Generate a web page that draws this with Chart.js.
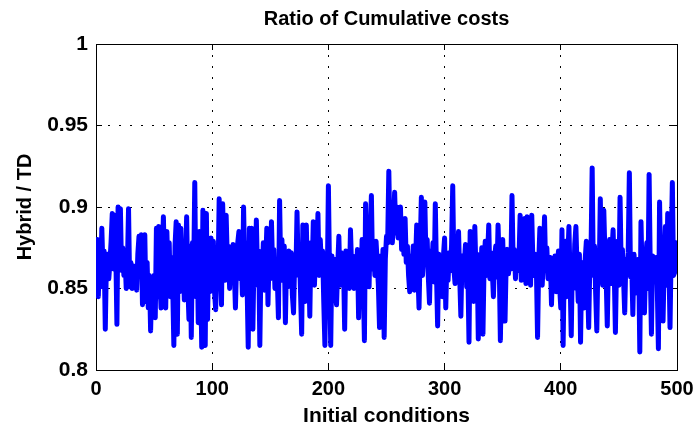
<!DOCTYPE html>
<html><head><meta charset="utf-8">
<script src="https://cdn.jsdelivr.net/npm/chart.js@4"></script>
<style>html,body{margin:0;padding:0;background:#fff}#wrap{width:695px;height:429px}</style>
</head><body><div id="wrap"><canvas id="c" width="695" height="429"></canvas></div>
<script>
const titleText = 'Ratio of Cumulative costs';
const xTitle = 'Initial conditions';
const yTitle = 'Hybrid / TD';
const xTicks = [0, 100, 200, 300, 400, 500];
const xTickLabels = ['0', '100', '200', '300', '400', '500'];
const yTicks = [0.8, 0.85, 0.9, 0.95, 1];
const yTickLabels = ['0.8', '0.85', '0.9', '0.95', '1'];
const ratio = [
0.880,0.845,0.872,0.851,0.887,0.862,0.873,0.825,0.868,0.871,
0.856,0.866,0.879,0.896,0.862,0.895,0.874,0.828,0.900,0.866,
0.899,0.861,0.875,0.858,0.869,0.850,0.863,0.899,0.851,0.866,
0.850,0.864,0.851,0.860,0.849,0.871,0.882,0.858,0.883,0.840,
0.876,0.883,0.842,0.866,0.838,0.858,0.824,0.855,0.836,0.858,
0.832,0.887,0.845,0.888,0.855,0.838,0.868,0.894,0.861,0.838,
0.885,0.858,0.878,0.845,0.869,0.852,0.815,0.876,0.891,0.822,
0.889,0.848,0.887,0.855,0.871,0.843,0.866,0.894,0.852,0.831,
0.876,0.820,0.878,0.856,0.915,0.845,0.881,0.829,0.885,0.860,
0.814,0.898,0.862,0.815,0.896,0.831,0.872,0.848,0.881,0.856,
0.879,0.848,0.837,0.875,0.856,0.905,0.862,0.840,0.902,0.871,
0.855,0.895,0.868,0.876,0.850,0.872,0.859,0.877,0.862,0.838,
0.866,0.878,0.885,0.856,0.870,0.846,0.900,0.861,0.878,0.853,
0.814,0.887,0.858,0.887,0.825,0.870,0.852,0.892,0.859,0.873,
0.815,0.868,0.855,0.878,0.849,0.864,0.887,0.840,0.871,0.856,
0.891,0.862,0.874,0.850,0.868,0.857,0.832,0.904,0.860,0.880,
0.855,0.876,0.829,0.868,0.851,0.873,0.860,0.872,0.846,0.835,
0.868,0.858,0.897,0.862,0.874,0.848,0.822,0.889,0.866,0.842,
0.889,0.855,0.871,0.833,0.878,0.860,0.891,0.852,0.874,0.866,
0.896,0.858,0.880,0.864,0.873,0.842,0.815,0.868,0.852,0.913,
0.858,0.815,0.870,0.856,0.868,0.847,0.840,0.863,0.882,0.852,
0.872,0.861,0.866,0.825,0.873,0.858,0.869,0.850,0.886,0.862,
0.870,0.850,0.866,0.857,0.874,0.832,0.868,0.849,0.880,0.855,
0.818,0.902,0.860,0.878,0.851,0.884,0.907,0.862,0.875,0.858,
0.879,0.866,0.852,0.826,0.870,0.857,0.874,0.820,0.868,0.882,
0.878,0.922,0.880,0.897,0.878,0.890,0.909,0.884,0.900,0.881,
0.893,0.900,0.874,0.887,0.871,0.893,0.866,0.876,0.858,0.848,
0.870,0.858,0.876,0.849,0.866,0.889,0.860,0.838,0.874,0.906,
0.858,0.871,0.903,0.866,0.880,0.857,0.841,0.873,0.862,0.878,
0.854,0.902,0.860,0.827,0.871,0.852,0.866,0.845,0.870,0.881,
0.838,0.868,0.855,0.872,0.861,0.877,0.913,0.862,0.853,0.874,
0.866,0.885,0.857,0.833,0.870,0.858,0.866,0.877,0.851,0.862,
0.817,0.885,0.852,0.873,0.842,0.888,0.860,0.871,0.819,0.868,
0.856,0.875,0.822,0.866,0.879,0.858,0.870,0.889,0.856,0.872,
0.862,0.845,0.868,0.876,0.857,0.889,0.866,0.818,0.860,0.880,
0.855,0.830,0.866,0.874,0.859,0.870,0.862,0.907,0.866,0.874,
0.856,0.872,0.861,0.868,0.895,0.855,0.880,0.862,0.893,0.853,
0.894,0.860,0.875,0.852,0.895,0.866,0.858,0.871,0.862,0.820,
0.866,0.887,0.872,0.852,0.868,0.894,0.861,0.875,0.856,0.863,
0.869,0.840,0.866,0.858,0.870,0.848,0.862,0.873,0.851,0.838,
0.886,0.815,0.866,0.879,0.845,0.868,0.888,0.855,0.821,0.870,
0.850,0.877,0.888,0.862,0.842,0.871,0.817,0.866,0.860,0.838,
0.868,0.879,0.855,0.826,0.866,0.872,0.924,0.858,0.876,0.847,
0.824,0.870,0.856,0.905,0.866,0.852,0.898,0.871,0.858,0.827,
0.868,0.880,0.853,0.872,0.886,0.860,0.823,0.866,0.879,0.852,
0.906,0.861,0.874,0.856,0.835,0.868,0.859,0.872,0.921,0.857,
0.866,0.834,0.871,0.858,0.860,0.847,0.868,0.811,0.891,0.858,
0.872,0.835,0.866,0.878,0.850,0.920,0.862,0.822,0.870,0.857,
0.866,0.869,0.852,0.813,0.903,0.858,0.871,0.830,0.866,0.888,
0.852,0.896,0.868,0.826,0.875,0.915,0.858,0.860,0.878,0.865
];
const conditions = ratio.map((_, i) => i + 1);

const FAM = "'Liberation Sans', Arial, Helvetica, sans-serif";
const gridOpts = { color: '#000', lineWidth: 1, drawTicks: true, tickLength: -6, tickColor: '#000', tickWidth: 1 };
const borderOpts = { display: true, color: '#000', width: 1, dash: [2, 9] };
const sideGrid = { display: true, drawOnChartArea: false, drawTicks: true, tickLength: -6, tickColor: '#000', tickWidth: 1, color: '#000' };

new Chart(document.getElementById('c'), {
  type: 'line',
  data: {
    datasets: [{
      data: conditions.map((c, i) => ({ x: c, y: ratio[i] })),
      borderColor: '#0000ff',
      backgroundColor: '#0000ff',
      borderWidth: 5,
      borderJoinStyle: 'round',
      borderCapStyle: 'round',
      pointRadius: 0,
      tension: 0,
      fill: false
    }]
  },
  options: {
    responsive: false,
    devicePixelRatio: 1,
    animation: false,
    layout: { padding: 0 },
    plugins: { legend: { display: false }, tooltip: { enabled: false }, title: { display: false } },
    scales: {
      x: {
        type: 'linear', position: 'bottom', min: 0, max: 500,
        afterBuildTicks: s => { s.ticks = xTicks.map(v => ({ value: v })); },
        afterFit: s => { s.height = 59; s.paddingLeft = 0; s.paddingRight = 0; },
        ticks: { color: '#000', font: { family: FAM, size: 20, weight: 'bold' }, padding: 13, maxRotation: 0, autoSkip: false,
                 callback: (v, i) => xTickLabels[i] },
        grid: gridOpts,
        border: borderOpts,
        title: { display: true, text: xTitle, color: '#000', font: { family: FAM, size: 21, weight: 'bold' }, padding: { top: 0, bottom: 0 } }
      },
      y: {
        type: 'linear', position: 'left', min: 0.8, max: 1,
        afterBuildTicks: s => { s.ticks = yTicks.map(v => ({ value: v })); },
        afterFit: s => { s.width = 96; s.paddingTop = 0; s.paddingBottom = 0; },
        ticks: { color: '#000', font: { family: FAM, size: 21, weight: 'bold' }, padding: 14,
                 callback: (v, i) => yTickLabels[i] },
        grid: gridOpts,
        border: borderOpts,
        title: { display: true, text: yTitle, color: '#000', font: { family: FAM, size: 20, weight: 'bold' }, padding: { top: 13, bottom: 0 } }
      },
      x2: {
        type: 'linear', position: 'top', min: 0, max: 500,
        afterBuildTicks: s => { s.ticks = xTicks.map(v => ({ value: v })); },
        afterFit: s => { s.height = 44; s.paddingLeft = 0; s.paddingRight = 0; },
        ticks: { display: false },
        grid: sideGrid,
        border: { display: true, color: '#000', width: 1 },
        title: { display: true, text: titleText, color: '#000', font: { family: FAM, size: 20, weight: 'bold' }, padding: { top: 7, bottom: 0 } }
      },
      y2: {
        type: 'linear', position: 'right', min: 0.8, max: 1,
        afterBuildTicks: s => { s.ticks = yTicks.map(v => ({ value: v })); },
        afterFit: s => { s.width = 18; s.paddingTop = 0; s.paddingBottom = 0; },
        ticks: { display: false },
        grid: sideGrid,
        border: { display: true, color: '#000', width: 1 }
      }
    }
  }
});
</script>
</body></html>
